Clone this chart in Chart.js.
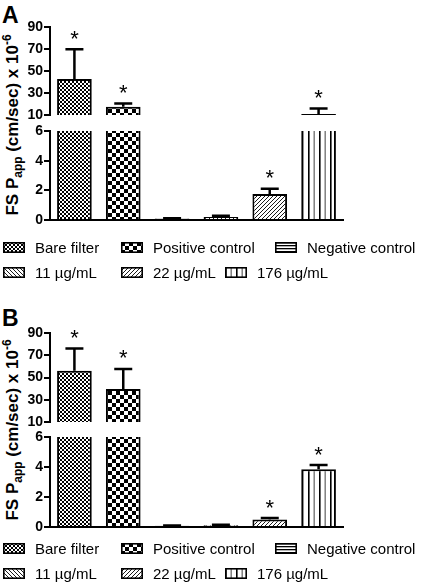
<!DOCTYPE html>
<html>
<head>
<meta charset="utf-8">
<script src="https://cdn.jsdelivr.net/npm/chart.js@4.4.0/dist/chart.umd.min.js"></script>
<style>
  body { margin: 0; width: 427px; height: 588px; position: relative; background: #fff;
         font-family: 'Liberation Sans', Arial, sans-serif; color: #000; overflow: hidden; }
  canvas.plot { position: absolute; left: 0; }
  .letter { position: absolute; left: 2px; font-weight: bold; font-size: 23px; line-height: 1; }
  .ytitle { position: absolute; white-space: nowrap; font-weight: bold; font-size: 17px; line-height: 1;
            transform: translate(-50%, -50%) rotate(-90deg); }
  .ytitle sub, .ytitle sup { font-size: 70%; line-height: 0; }
  .item { position: absolute; display: flex; align-items: center; font-size: 15px; white-space: nowrap; }
  .item canvas { margin-right: 10px; }
</style>
</head>
<body>
<div class="letter" style="top:4px">A</div>
<div class="letter" style="top:307px">B</div>
<div class="ytitle" style="left:12px;top:125px">FS P<sub>app</sub> (cm/sec) x 10<sup>-6</sup></div>
<div class="ytitle" style="left:12px;top:430px">FS P<sub>app</sub> (cm/sec) x 10<sup>-6</sup></div>

<canvas class="plot" id="aTop" width="345" height="108" style="top:17px"></canvas>
<canvas class="plot" id="aBot" width="345" height="109" style="top:121px"></canvas>
<canvas class="plot" id="bTop" width="345" height="109" style="top:323px"></canvas>
<canvas class="plot" id="bBot" width="345" height="110" style="top:427px"></canvas>

<div id="legendA"></div>
<div id="legendB"></div>

<script>
// ---------- data ----------
const GROUPS = ['Bare filter', 'Positive control', 'Negative control', '11 µg/mL', '22 µg/mL', '176 µg/mL'];

const MEAN_A = [42.8, 17.5, 0.1, 0.2, 1.75, 10.8];
const SEM_A  = [27, 3, 0.02, 0.08, 0.35, 5];
const SIG_A  = ['*', '*', '', '', '*', '*'];

const MEAN_B = [56, 39.7, 0.08, 0.12, 0.5, 3.85];
const SEM_B  = [20, 18, 0.02, 0.03, 0.1, 0.28];
const SIG_B  = ['*', '*', '', '', '*', '*'];

const UPPER_TICKS = [10, 30, 50, 70, 90];
const LOWER_TICKS = [0, 2, 4, 6];

// fill style for each group, same order as GROUPS
const FILLS = ['checkSmall', 'checkLarge', 'hlines', 'diagDown', 'diagUp', 'vlines'];

// ---------- patterns ----------
function makeTile(type) {
  const c = document.createElement('canvas');
  const g = c.getContext('2d');
  let s;
  if (type === 'checkSmall') {
    s = 4; c.width = c.height = s;
    g.fillStyle = '#fff'; g.fillRect(0, 0, s, s);
    g.fillStyle = '#000'; g.fillRect(0, 0, 2, 2); g.fillRect(2, 2, 2, 2);
  } else if (type === 'checkLarge') {
    s = 8; c.width = c.height = s;
    g.fillStyle = '#fff'; g.fillRect(0, 0, s, s);
    g.fillStyle = '#000'; g.fillRect(0, 0, 4, 4); g.fillRect(4, 4, 4, 4);
  } else if (type === 'hlines') {
    c.width = 4; c.height = 3;
    g.fillStyle = '#fff'; g.fillRect(0, 0, 4, 3);
    g.fillStyle = '#000'; g.fillRect(0, 0, 4, 1.3);
  } else if (type === 'vlines') {
    c.width = 11; c.height = 4;
    g.fillStyle = '#fff'; g.fillRect(0, 0, 11, 4);
    g.fillStyle = '#000'; g.fillRect(0, 0, 1.6, 4);
    g.fillStyle = '#777'; g.fillRect(5.5, 0, 1.4, 4);
  } else {
    s = 4; c.width = c.height = s;
    g.fillStyle = '#fff'; g.fillRect(0, 0, s, s);
    g.strokeStyle = '#000'; g.lineWidth = 0.9;
    g.beginPath();
    if (type === 'diagUp') {
      g.moveTo(0, s); g.lineTo(s, 0);
      g.moveTo(-1, 1); g.lineTo(1, -1);
      g.moveTo(s - 1, s + 1); g.lineTo(s + 1, s - 1);
    } else {
      g.moveTo(0, 0); g.lineTo(s, s);
      g.moveTo(-1, s - 1); g.lineTo(1, s + 1);
      g.moveTo(s - 1, -1); g.lineTo(s + 1, 1);
    }
    g.stroke();
  }
  return c;
}
const tiles = FILLS.map(makeTile);
const patterns = tiles.map(t => document.createElement('canvas').getContext('2d').createPattern(t, 'repeat'));

// ---------- error bars + asterisks ----------
function errorBarPlugin(mean, err, sig) {
  return {
    id: 'errorBars',
    afterDatasetsDraw(chart) {
      const ctx = chart.ctx;
      const y = chart.scales.y;
      const meta = chart.getDatasetMeta(0);
      meta.data.forEach((bar, i) => {
        const v = mean[i];
        if (v < y.min || v > y.max) return;
        const top = y.getPixelForValue(v + err[i]);
        ctx.save();
        ctx.strokeStyle = '#000';
        ctx.lineWidth = 2.5;
        ctx.beginPath();
        ctx.moveTo(bar.x, bar.y);
        ctx.lineTo(bar.x, top);
        ctx.moveTo(bar.x - 9, top);
        ctx.lineTo(bar.x + 9, top);
        ctx.stroke();
        if (sig[i]) {
          ctx.fillStyle = '#000';
          ctx.font = '22px "Liberation Sans", Arial, sans-serif';
          ctx.textAlign = 'center';
          ctx.textBaseline = 'alphabetic';
          ctx.fillText(sig[i], bar.x, top - 3.5);
        }
        ctx.restore();
      });
    }
  };
}

function makeChart(id, values, mean, err, sig, ticks, showBase) {
  const lo = ticks[0], hi = ticks[ticks.length - 1];
  return new Chart(document.getElementById(id), {
    type: 'bar',
    data: {
      labels: GROUPS,
      datasets: [{
        data: values,
        backgroundColor: patterns,
        borderColor: '#000',
        borderWidth: 2,
        borderSkipped: 'start',
        barPercentage: 0.71,
        categoryPercentage: 1,
        clip: 0,
      }],
    },
    options: {
      responsive: false,
      animation: false,
      layout: { padding: { top: 10, bottom: 10, left: 0, right: 2 } },
      plugins: { legend: { display: false }, tooltip: { enabled: false } },
      scales: {
        x: {
          display: showBase,
          grid: { display: false, drawTicks: false },
          ticks: { display: false },
          border: { display: true, color: '#000', width: 2 },
        },
        y: {
          min: lo, max: hi,
          ticks: {
            stepSize: ticks[1] - ticks[0],
            color: '#000',
            padding: 1,
            font: { family: "'Liberation Sans', Arial, sans-serif", size: 14, weight: 'bold' },
          },
          grid: { drawOnChartArea: false, drawTicks: true, tickLength: 6, color: '#000', lineWidth: 2 },
          border: { color: '#000', width: 2 },
          afterFit(s) { s.width = 50; },
        },
      },
    },
    plugins: [errorBarPlugin(mean, err, sig)],
  });
}

const upper = m => m.map(v => (v >= UPPER_TICKS[0] ? v : null));

makeChart('aTop', upper(MEAN_A), MEAN_A, SEM_A, SIG_A, UPPER_TICKS, false);
makeChart('aBot', MEAN_A, MEAN_A, SEM_A, SIG_A, LOWER_TICKS, true);
makeChart('bTop', upper(MEAN_B), MEAN_B, SEM_B, SIG_B, UPPER_TICKS, false);
makeChart('bBot', MEAN_B, MEAN_B, SEM_B, SIG_B, LOWER_TICKS, true);

// ---------- legends ----------
const LEGEND_X = [[3, 121, 275], [3, 121, 225]];
function buildLegend(el, top) {
  GROUPS.forEach((name, i) => {
    const row = Math.floor(i / 3), col = i % 3;
    const item = document.createElement('div');
    item.className = 'item';
    item.style.left = LEGEND_X[row][col] + 'px';
    item.style.top = (top + row * 25) + 'px';
    const sw = document.createElement('canvas');
    sw.width = 22; sw.height = 11;
    const g = sw.getContext('2d');
    g.fillStyle = g.createPattern(tiles[i], 'repeat');
    g.fillRect(0, 0, 22, 11);
    g.strokeStyle = '#000'; g.lineWidth = 1.6;
    g.strokeRect(0.8, 0.8, 20.4, 9.4);
    item.appendChild(sw);
    const t = document.createElement('span');
    t.textContent = name;
    item.appendChild(t);
    el.appendChild(item);
  });
}
buildLegend(document.getElementById('legendA'), 239);
buildLegend(document.getElementById('legendB'), 540);
</script>
</body>
</html>
